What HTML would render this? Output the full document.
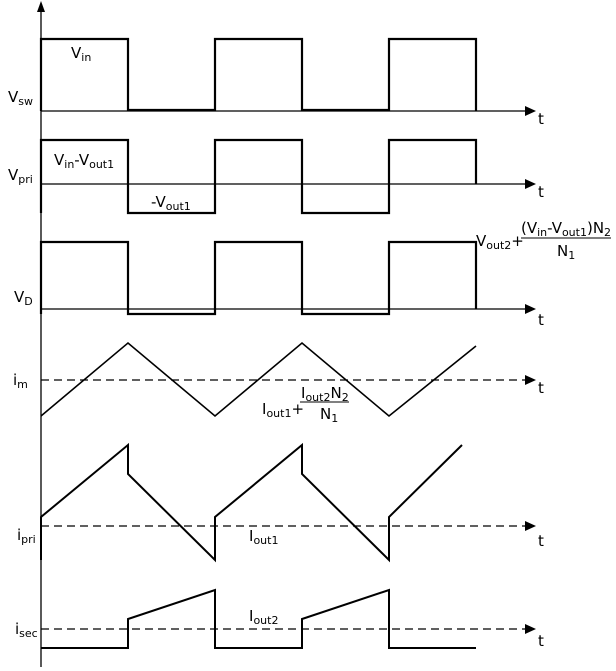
<!DOCTYPE html>
<html><head><meta charset="utf-8"><style>
html,body{margin:0;padding:0;background:#fff;}
svg{display:block;}
text{font-family:"DejaVu Sans","Liberation Sans",sans-serif;font-size:15px;fill:#000;}
.s{font-size:11px;}
</style></head><body>
<svg width="616" height="671" viewBox="0 0 616 671" xmlns="http://www.w3.org/2000/svg">
<g stroke="#000" fill="none" stroke-width="1.3">
<line x1="41" y1="667" x2="41" y2="8"/>
<line x1="41" y1="111" x2="527" y2="111"/>
<line x1="41" y1="184" x2="527" y2="184"/>
<line x1="41" y1="309" x2="527" y2="309"/>
<g stroke-dasharray="8,5">
<line x1="41" y1="380" x2="525" y2="380"/>
<line x1="41" y1="526" x2="525" y2="526"/>
<line x1="41" y1="629" x2="525" y2="629"/>
</g>
</g>
<g fill="#000" stroke="none">
<path d="M37,12 L41,1 L45,12 Z"/>
<path d="M525,106 L536,111 L525,116 Z"/>
<path d="M525,179 L536,184 L525,189 Z"/>
<path d="M525,304 L536,309 L525,314 Z"/>
<path d="M525,375 L536,380 L525,385 Z"/>
<path d="M525,521 L536,526 L525,531 Z"/>
<path d="M525,624 L536,629 L525,634 Z"/>
</g>
<g stroke="#000" fill="none" stroke-width="2.2">
<path d="M41,111 V39 H128 V110 H215 V39 H302 V110 H389 V39 H476 V111"/>
<path d="M41,213 V140 H128 V213 H215 V140 H302 V213 H389 V140 H476 V184"/>
<path d="M41,314 V242 H128 V314 H215 V242 H302 V314 H389 V242 H476 V309"/>
</g>
<g stroke="#000" fill="none" stroke-width="1.6">
<polyline points="41,416 128,343 215,416 302,343 389,416 476,346"/>
</g>
<g stroke="#000" fill="none" stroke-width="2">
<polyline points="41,560 41,517 128,445 128,474 215,560 215,517 302,445 302,474 389,560 389,517 462,445"/>
<polyline points="41,648 128,648 128,619 215,590 215,648 302,648 302,619 389,590 389,648 476,648"/>
</g>
<line x1="521" y1="238" x2="611" y2="238" stroke="#000" stroke-width="1"/>
<line x1="300" y1="402" x2="349" y2="402" stroke="#000" stroke-width="1"/>
<text x="538" y="124">t</text>
<text x="538" y="197">t</text>
<text x="538" y="325">t</text>
<text x="538" y="393">t</text>
<text x="538" y="546">t</text>
<text x="538" y="646">t</text>
<text x="71" y="58">V<tspan class="s" dy="3">in</tspan></text>
<text x="8" y="102">V<tspan class="s" dy="3">sw</tspan></text>
<text x="8" y="180">V<tspan class="s" dy="3">pri</tspan></text>
<text x="54" y="165">V<tspan class="s" dy="3">in</tspan><tspan dy="-3">-V</tspan><tspan class="s" dy="3">out1</tspan></text>
<text x="151" y="207">-V<tspan class="s" dy="3">out1</tspan></text>
<text x="14" y="302">V<tspan class="s" dy="3">D</tspan></text>
<text x="476" y="246">V<tspan class="s" dy="3">out2</tspan><tspan dy="-3">+</tspan></text>
<text x="521" y="233">(V<tspan class="s" dy="3">in</tspan><tspan dy="-3">-V</tspan><tspan class="s" dy="3">out1</tspan><tspan dy="-3">)N</tspan><tspan class="s" dy="3">2</tspan></text>
<text x="557" y="256">N<tspan class="s" dy="3">1</tspan></text>
<text x="13" y="385">i<tspan class="s" dy="3">m</tspan></text>
<text x="262" y="414">I<tspan class="s" dy="3">out1</tspan><tspan dy="-3">+</tspan></text>
<text x="301" y="398">I<tspan class="s" dy="3">out2</tspan><tspan dy="-3">N</tspan><tspan class="s" dy="3">2</tspan></text>
<text x="320" y="419">N<tspan class="s" dy="3">1</tspan></text>
<text x="17" y="540">i<tspan class="s" dy="3">pri</tspan></text>
<text x="249" y="541">I<tspan class="s" dy="3">out1</tspan></text>
<text x="15" y="634">i<tspan class="s" dy="3">sec</tspan></text>
<text x="249" y="621">I<tspan class="s" dy="3">out2</tspan></text>
</svg>
</body></html>
